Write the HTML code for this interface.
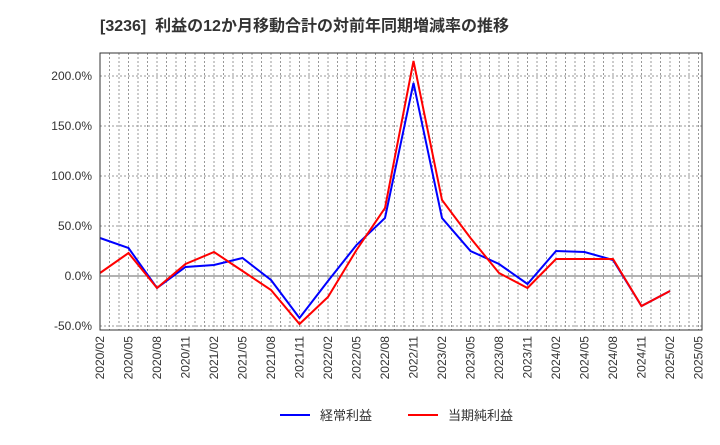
<!DOCTYPE html>
<html><head><meta charset="utf-8"><style>
body{margin:0;background:#fff;}
svg text{font-family:"Liberation Sans","Noto Sans CJK JP",sans-serif;}
</style></head><body>
<svg width="720" height="440" xmlns="http://www.w3.org/2000/svg">
<text x="100" y="31" font-size="16" font-weight="bold" fill="#333" style="white-space:pre">[3236]  利益の12か月移動合計の対前年同期増減率の推移</text>
<g id="grid"></g>
<g id="yaxis"></g>
<g id="xaxis"></g>
<g id="series"></g>
<rect x="100" y="53" width="602" height="277" fill="none" stroke="#333" stroke-width="1"/>
<g>
<line x1="280" y1="415" x2="310" y2="415" stroke="#0000ff" stroke-width="2"/>
<text x="320" y="420" font-size="13" fill="#333">経常利益</text>
<line x1="408" y1="415" x2="438" y2="415" stroke="#ff0000" stroke-width="2"/>
<text x="448" y="420" font-size="13" fill="#333">当期純利益</text>
</g>
</svg>
<script>
const xLabels=["2020/02","2020/05","2020/08","2020/11","2021/02","2021/05","2021/08","2021/11","2022/02","2022/05","2022/08","2022/11","2023/02","2023/05","2023/08","2023/11","2024/02","2024/05","2024/08","2024/11","2025/02","2025/05"];
const yTicks=[-50,0,50,100,150,200];
const blueValues=[38,28,-12,9,11,18,-4,-42,-5,31,58,193,58,25,12,-8,25,24,16,-30,-15];
const redValues=[3,23,-12,12,24,5,-14,-48,-21,26,68,215,76,38,3,-12,17,17,17,-30,-15];
const NS="http://www.w3.org/2000/svg";
const X0=100,DX=28.5,Y0=276,SY=1.0;
function xs(i){return X0+DX*i;}
function ys(v){return Y0-v*SY;}
function mk(tag,attrs,parent){const e=document.createElementNS(NS,tag);for(const k in attrs)e.setAttribute(k,attrs[k]);parent.appendChild(e);return e;}
const grid=document.getElementById('grid'),ya=document.getElementById('yaxis'),xa=document.getElementById('xaxis'),se=document.getElementById('series');
for(let m=1;m<(xLabels.length-1)*3+1;m++){const x=X0+DX*m/3;if(x>=702)break;
const l=mk('line',{x1:x,y1:53,x2:x,y2:330,stroke:'#999','stroke-width':1,'stroke-dasharray':'2,2'},grid);

}
yTicks.forEach(v=>{const y=ys(v);
const l=mk('line',{x1:100,y1:y,x2:702,y2:y,stroke:v===0?'#666':'#999','stroke-width':1,'stroke-dasharray':v===0?'':'2,2'},grid);


const t=mk('text',{x:92,y:y+4,'font-size':12,fill:'#333','text-anchor':'end'},ya);t.textContent=v.toFixed(1)+'%';

});
xLabels.forEach((s,i)=>{const x=xs(i);
const t=mk('text',{x:0,y:0,'font-size':12,fill:'#333','text-anchor':'end',transform:`translate(${x+4},336) rotate(-90)`},xa);t.textContent=s;

});
function line(vals,color,name){const p=mk('polyline',{points:vals.map((v,i)=>xs(i)+','+ys(v)).join(' '),fill:'none',stroke:color,'stroke-width':2},se);

}
line(blueValues,'#0000ff','line-operating-profit');
line(redValues,'#ff0000','line-net-profit');
</script>
</body></html>
